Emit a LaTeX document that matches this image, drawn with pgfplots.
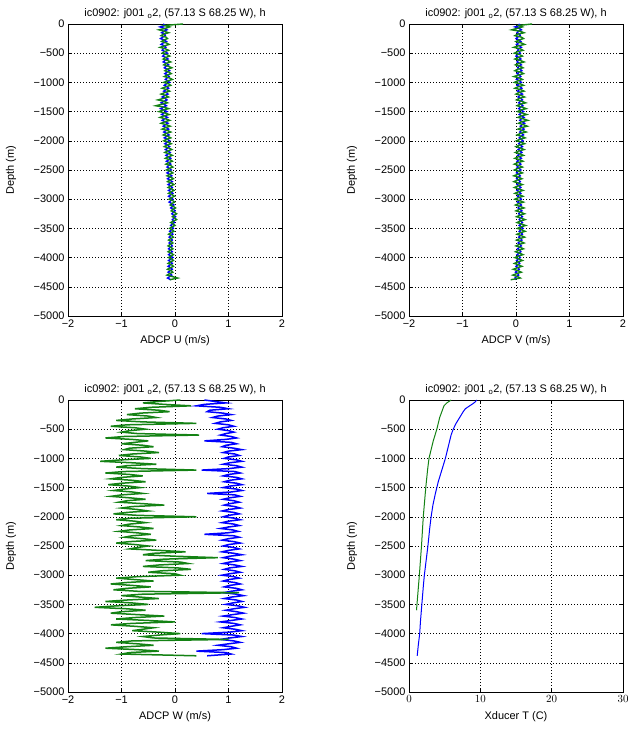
\documentclass[border=0pt]{standalone}
\usepackage{fontspec}
\setmainfont{Liberation Sans}
\usepackage{pgfplots}
\usepackage{pgfplotstable}
\pgfplotsset{compat=1.18}
\definecolor{mblue}{RGB}{0,0,255}
\definecolor{mgreen}{RGB}{20,130,20}

\pgfplotstableread{
d ub ug vb vg wb wg
0 -0.22 0.15 0.05 0.30 0.55 0.10
-25 -0.18 -0.20 0.08 0.05 0.75 -0.30
-50 -0.28 -0.10 -0.02 0.12 0.95 -0.60
-75 -0.20 -0.18 0.06 0.02 0.55 -0.20
-100 -0.15 -0.30 0.10 -0.08 0.40 0.30
-125 -0.21 -0.20 0.04 0.08 0.85 -0.45
-150 -0.25 -0.12 0.02 0.15 1.00 -0.75
-175 -0.19 -0.22 0.07 0.03 0.65 -0.30
-200 -0.18 -0.26 0.08 -0.02 0.60 -0.10
-225 -0.23 -0.17 0.03 0.10 0.90 -0.65
-250 -0.27 -0.14 0.00 0.14 1.05 -0.90
-275 -0.20 -0.21 0.06 0.05 0.80 -0.50
-300 -0.16 -0.25 0.09 0.00 0.70 -0.35
-325 -0.22 -0.16 0.04 0.10 0.95 -0.80
-350 -0.26 -0.11 0.01 0.16 1.05 -1.10
-375 -0.19 -0.20 0.07 0.04 0.85 -0.60
-400 -0.17 -0.28 0.10 -0.04 0.75 0.40
-425 -0.22 -0.18 0.05 0.08 1.00 -0.90
-450 -0.24 -0.12 0.03 0.13 1.10 -1.20
-475 -0.18 -0.20 0.06 0.03 0.90 -0.75
-500 -0.14 -0.24 0.08 -0.03 0.80 -0.55
-525 -0.20 -0.15 0.03 0.07 1.00 -0.85
-550 -0.23 -0.10 0.00 0.12 1.10 -1.00
-575 -0.17 -0.18 0.06 0.04 0.95 -0.70
-600 -0.13 -0.22 0.09 -0.02 0.85 0.45
-625 -0.19 -0.14 0.04 0.08 1.05 -0.95
-650 -0.22 -0.08 0.02 0.15 1.15 -1.30
-675 -0.16 -0.17 0.07 0.05 0.95 -0.80
-700 -0.12 -0.21 0.10 -0.01 0.55 -0.50
-725 -0.17 -0.12 0.05 0.08 1.05 -0.75
-750 -0.20 -0.06 0.03 0.13 1.15 -1.00
-775 -0.14 -0.15 0.08 0.03 0.95 -0.60
-800 -0.10 -0.19 0.11 -0.02 0.88 -0.40
-825 -0.15 -0.11 0.05 0.09 1.10 -0.85
-850 -0.19 -0.07 0.02 0.14 1.25 -0.95
-875 -0.14 -0.15 0.07 0.04 1.00 -0.55
-900 -0.11 -0.20 0.09 -0.04 0.90 -0.30
-925 -0.15 -0.10 0.04 0.07 1.12 -0.80
-950 -0.18 -0.05 0.01 0.12 1.20 -1.05
-975 -0.13 -0.14 0.07 0.03 1.00 -0.65
-1000 -0.10 -0.21 0.10 -0.03 0.92 -0.45
-1025 -0.16 -0.12 0.05 0.08 1.15 -1.00
-1050 -0.20 -0.08 0.02 0.14 1.25 -1.40
-1075 -0.15 -0.17 0.08 0.04 1.02 -0.80
-1100 -0.12 -0.24 0.11 -0.02 0.90 -0.35
-1125 -0.17 -0.15 0.06 0.09 1.15 -0.90
-1150 -0.21 -0.10 0.03 0.15 1.25 -1.10
-1175 -0.16 -0.19 0.08 0.05 1.00 -0.60
-1200 -0.13 -0.26 0.12 0.00 0.50 0.40
-1225 -0.19 -0.17 0.07 0.10 1.12 -0.95
-1250 -0.24 -0.12 0.04 0.16 1.22 -1.30
-1275 -0.18 -0.22 0.09 0.06 1.00 -0.85
-1300 -0.15 -0.32 0.12 0.01 0.90 -0.60
-1325 -0.21 -0.20 0.08 0.11 1.15 -1.00
-1350 -0.26 -0.14 0.05 0.18 1.25 -1.20
-1375 -0.20 -0.25 0.10 0.07 1.02 -0.80
-1400 -0.16 -0.36 0.13 0.02 0.92 -0.55
-1425 -0.22 -0.20 0.08 0.12 1.15 -1.00
-1450 -0.27 -0.12 0.05 0.19 1.25 -1.25
-1475 -0.20 -0.23 0.10 0.08 1.02 -0.85
-1500 -0.15 -0.30 0.14 0.03 0.90 -0.65
-1525 -0.21 -0.18 0.09 0.12 1.15 -0.95
-1550 -0.25 -0.11 0.06 0.20 1.25 -1.15
-1575 -0.19 -0.21 0.11 0.09 1.05 -0.80
-1600 -0.14 -0.28 0.15 0.04 0.60 -0.60
-1625 -0.20 -0.17 0.10 0.14 1.12 -1.00
-1650 -0.24 -0.10 0.07 0.22 1.22 -1.20
-1675 -0.18 -0.19 0.12 0.10 1.02 -0.85
-1700 -0.13 -0.26 0.16 0.05 0.90 -0.55
-1725 -0.18 -0.16 0.11 0.14 1.10 -0.90
-1750 -0.22 -0.09 0.08 0.21 1.20 -1.05
-1775 -0.16 -0.18 0.12 0.10 1.02 -0.60
-1800 -0.12 -0.24 0.15 0.04 0.92 -0.20
-1825 -0.17 -0.14 0.10 0.12 1.12 -0.80
-1850 -0.21 -0.08 0.07 0.19 1.22 -1.00
-1875 -0.15 -0.17 0.11 0.08 1.00 -0.70
-1900 -0.11 -0.22 0.14 0.02 0.88 -0.50
-1925 -0.16 -0.13 0.09 0.11 1.10 -0.90
-1950 -0.20 -0.08 0.06 0.17 1.20 -1.15
-1975 -0.14 -0.16 0.10 0.07 1.00 -0.70
-2000 -0.10 -0.21 0.13 0.01 0.90 0.40
-2025 -0.15 -0.12 0.08 0.10 1.12 -0.85
-2050 -0.19 -0.07 0.05 0.16 1.22 -1.10
-2075 -0.14 -0.15 0.09 0.06 1.00 -0.75
-2100 -0.10 -0.20 0.12 0.00 0.88 -0.55
-2125 -0.14 -0.11 0.07 0.09 1.10 -0.85
-2150 -0.18 -0.06 0.04 0.15 1.20 -1.00
-2175 -0.13 -0.14 0.08 0.05 1.00 -0.65
-2200 -0.09 -0.19 0.11 -0.01 0.85 -0.40
-2225 -0.13 -0.10 0.06 0.08 1.08 -0.85
-2250 -0.17 -0.05 0.03 0.14 1.18 -1.05
-2275 -0.12 -0.13 0.07 0.04 0.98 -0.70
-2300 -0.08 -0.18 0.10 -0.02 0.55 -0.45
-2325 -0.12 -0.09 0.05 0.07 1.10 -0.80
-2350 -0.16 -0.05 0.02 0.13 1.20 -0.95
-2375 -0.11 -0.12 0.06 0.03 1.00 -0.60
-2400 -0.08 -0.17 0.09 -0.03 0.88 -0.35
-2425 -0.12 -0.08 0.05 0.06 1.10 -0.85
-2450 -0.15 -0.04 0.02 0.12 1.22 -1.10
-2475 -0.10 -0.11 0.06 0.03 1.00 -0.75
-2500 -0.07 -0.16 0.09 -0.03 0.90 -0.50
-2525 -0.11 -0.08 0.04 0.06 1.10 -0.70
-2550 -0.15 -0.04 0.01 0.12 1.20 -0.85
-2575 -0.10 -0.10 0.05 0.03 1.00 -0.30
-2600 -0.06 -0.15 0.08 -0.04 0.88 0.20
-2625 -0.10 -0.07 0.04 0.05 1.10 -0.40
-2650 -0.14 -0.03 0.01 0.11 1.25 -0.60
-2675 -0.09 -0.10 0.05 0.02 1.02 0.00
-2700 -0.05 -0.14 0.08 -0.04 0.90 0.80
-2725 -0.09 -0.06 0.05 0.05 1.10 -0.20
-2750 -0.13 -0.02 0.02 0.12 1.22 -0.55
-2775 -0.08 -0.09 0.06 0.03 1.02 0.10
-2800 -0.05 -0.13 0.09 -0.03 0.90 0.25
-2825 -0.08 -0.06 0.05 0.06 1.12 -0.30
-2850 -0.12 -0.02 0.02 0.13 1.25 -0.60
-2875 -0.07 -0.08 0.06 0.04 1.02 0.05
-2900 -0.04 -0.12 0.09 -0.02 0.92 0.30
-2925 -0.08 -0.05 0.05 0.07 1.12 -0.25
-2950 -0.12 -0.01 0.03 0.13 1.22 -0.50
-2975 -0.07 -0.07 0.07 0.04 1.02 0.00
-3000 -0.04 -0.11 0.10 -0.02 0.88 0.10
-3025 -0.08 -0.04 0.06 0.07 1.10 -0.70
-3050 -0.11 -0.01 0.03 0.14 1.20 -1.10
-3075 -0.06 -0.06 0.07 0.05 1.00 -0.75
-3100 -0.02 -0.09 0.10 -0.01 0.90 -0.40
-3125 -0.05 -0.03 0.06 0.08 1.12 -0.90
-3150 -0.08 0.01 0.04 0.15 1.22 -1.20
-3175 -0.03 -0.04 0.08 0.06 1.02 -0.80
-3200 0.00 -0.07 0.11 0.00 0.92 -0.45
-3225 -0.03 -0.01 0.07 0.09 1.15 -0.90
-3250 -0.06 0.03 0.05 0.16 1.25 -1.15
-3275 -0.02 -0.02 0.09 0.07 1.05 -0.70
-3300 0.01 -0.05 0.12 0.01 0.90 1.20
-3325 -0.02 0.00 0.08 0.10 1.15 -0.60
-3350 -0.05 0.03 0.06 0.17 1.28 -1.00
-3375 -0.03 -0.03 0.09 0.08 1.05 -0.65
-3400 -0.01 -0.08 0.12 0.02 0.92 -0.30
-3425 -0.05 -0.03 0.09 0.10 1.15 -0.90
-3450 -0.08 0.00 0.06 0.18 1.25 -1.30
-3475 -0.05 -0.06 0.10 0.09 1.08 -0.80
-3500 -0.03 -0.10 0.13 0.03 0.95 -0.50
-3525 -0.07 -0.05 0.09 0.11 1.18 -1.10
-3550 -0.10 -0.02 0.06 0.17 1.30 -1.50
-3575 -0.06 -0.08 0.10 0.08 1.10 -0.90
-3600 -0.04 -0.12 0.12 0.02 0.95 -0.55
-3625 -0.08 -0.06 0.08 0.10 1.15 -1.00
-3650 -0.11 -0.03 0.05 0.16 1.28 -1.20
-3675 -0.07 -0.08 0.09 0.07 1.08 -0.70
-3700 -0.05 -0.12 0.11 0.01 0.90 -0.20
-3725 -0.08 -0.07 0.07 0.09 1.12 -0.75
-3750 -0.11 -0.04 0.04 0.15 1.25 -1.10
-3775 -0.07 -0.09 0.08 0.06 1.05 -0.50
-3800 -0.05 -0.13 0.10 0.00 0.85 0.00
-3825 -0.09 -0.07 0.06 0.08 1.10 -0.80
-3850 -0.12 -0.04 0.03 0.14 1.22 -1.20
-3875 -0.08 -0.09 0.07 0.05 1.05 -0.75
-3900 -0.05 -0.13 0.09 -0.01 0.90 -0.40
-3925 -0.09 -0.07 0.05 0.07 1.12 -0.60
-3950 -0.12 -0.03 0.02 0.13 1.25 -0.80
-3975 -0.07 -0.08 0.06 0.04 1.02 -0.30
-4000 -0.04 -0.12 0.08 -0.02 0.50 0.10
-4025 -0.08 -0.06 0.04 0.06 1.10 -0.30
-4050 -0.12 -0.03 0.01 0.12 1.25 -0.60
-4075 -0.08 -0.09 0.05 0.03 1.02 -0.40
-4100 -0.05 -0.13 0.07 -0.03 0.85 1.00
-4125 -0.09 -0.06 0.03 0.05 1.10 -0.80
-4150 -0.13 -0.03 0.00 0.11 1.22 -1.10
-4175 -0.08 -0.09 0.04 0.02 1.00 -0.70
-4200 -0.05 -0.14 0.06 -0.05 0.80 -0.40
-4225 -0.09 -0.07 0.02 0.04 1.05 -0.90
-4250 -0.13 -0.04 -0.01 0.10 1.15 -1.30
-4275 -0.09 -0.10 0.03 0.01 0.90 -0.70
-4300 -0.06 -0.15 0.05 -0.06 0.40 -0.30
-4325 -0.10 -0.05 0.01 0.03 0.95 -0.85
-4350 -0.14 0.05 -0.02 0.08 1.05 -1.00
-4380 -0.08 -0.10 0.00 -0.10 0.60 0.40
}\adcp

\pgfplotstableread{
d T
0 9.5
-30 9.3
-60 9.0
-100 8.5
-150 7.9
-200 7.6
-300 7.1
-400 6.6
-500 6.2
-600 5.9
-800 5.5
-1000 5.1
-1200 4.6
-1400 4.1
-1600 3.7
-1800 3.35
-2000 3.1
-2200 2.9
-2500 2.65
-2800 2.35
-3000 2.15
-3200 2.0
-3500 1.8
-3800 1.6
-4000 1.5
-4200 1.3
-4380 1.15
}\tblue

\pgfplotstableread{
d T
0 5.9
-50 5.3
-100 4.9
-200 4.6
-300 4.3
-500 3.9
-700 3.4
-900 3.0
-1000 2.8
-1200 2.6
-1500 2.35
-2000 2.0
-2500 1.75
-3000 1.45
-3300 1.25
-3600 1.05
}\tgreen

\pgfplotsset{
  panel/.style={
    scale only axis, width=214bp, height=292bp,
    anchor=south west,
    ymin=-5000, ymax=0, ytick={-5000,-4500,...,0},
    yticklabels={−5000,−4500,−4000,−3500,−3000,−2500,−2000,−1500,−1000,−500,0},
    grid=major,
    major grid style={black, line width=0.5bp, dash pattern=on 0.7bp off 2.3bp},
    axis line style={black, line width=0.6bp},
    tick align=inside, major tick length=3bp,
    tick style={black, line width=0.5bp},
    font=\fontsize{11}{13}\selectfont,
    ylabel={Depth (m)},
    ylabel style={at={(axis description cs:0,0.5)}, anchor=center, yshift=57bp},
    xlabel style={at={(axis description cs:0.5,0)}, anchor=center, yshift=-25bp},
    title style={at={(axis description cs:0.5,1)}, anchor=center, yshift=4bp},
    title={ic0902: j001 \textsubscript{o}2, (57.13 S 68.25 W), h},
  },
  vel/.style={xmin=-2, xmax=2, xtick={-2,-1,0,1,2}, xticklabels={−2,−1,0,1,2}},
}

\begin{document}
\begin{tikzpicture}[x=1bp,y=1bp]
\useasboundingbox (0,0) rectangle (628,729);

\begin{axis}[panel, vel, at={(68bp,413bp)}, xlabel={ADCP U (m/s)}]
\addplot[mblue, line width=1.4bp] table[x=ub, y=d] {\adcp};
\addplot[mgreen, line width=1.4bp] table[x=ug, y=d] {\adcp};
\end{axis}

\begin{axis}[panel, vel, at={(409bp,413bp)}, xlabel={ADCP V (m/s)}]
\addplot[mblue, line width=1.4bp] table[x=vb, y=d] {\adcp};
\addplot[mgreen, line width=1.4bp] table[x=vg, y=d] {\adcp};
\end{axis}

\begin{axis}[panel, vel, at={(68bp,37bp)}, xlabel={ADCP W (m/s)}]
\addplot[mblue, line width=1.5bp] table[x=wb, y=d] {\adcp};
\addplot[mgreen, line width=1.5bp] table[x=wg, y=d] {\adcp};
\end{axis}

\begin{axis}[panel, at={(409bp,37bp)}, xmin=0, xmax=30, xtick={0,10,20,30}, xlabel={Xducer T (C)}]
\addplot[mblue, line width=1bp] table[x=T, y=d] {\tblue};
\addplot[mgreen, line width=1bp] table[x=T, y=d] {\tgreen};
\end{axis}
\end{tikzpicture}
\end{document}
